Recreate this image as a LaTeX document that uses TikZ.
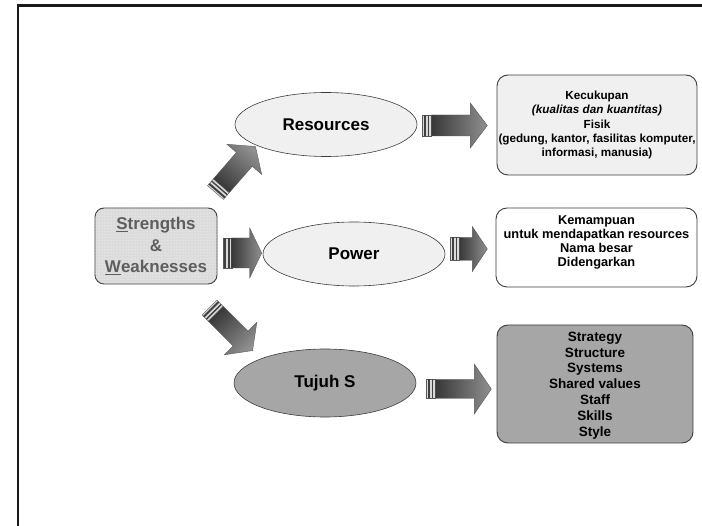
\documentclass[tikz,border=0pt]{standalone}
\usepackage{fontspec}
\setmainfont{Liberation Sans}
\usepackage{xcolor}
\definecolor{edge}{HTML}{3C3C3C}
\definecolor{pale}{HTML}{F0F0F0}
\definecolor{mid}{HTML}{A6A6A6}
\definecolor{shaftd}{HTML}{383838}
\definecolor{shaftl}{HTML}{909090}
\definecolor{swtext}{HTML}{5E5E5E}
\usetikzlibrary{positioning,calc,shapes.geometric,patterns}
\tikzset{
  oval/.style={ellipse,draw=edge,line width=0.6pt,fill=pale,minimum width=182pt,minimum height=64pt,inner sep=0pt,font=\fontsize{17}{20}\selectfont\bfseries},
  doval/.style={oval,fill=mid},
  card/.style={draw=edge,line width=0.9pt,rounded corners=11pt,fill=pale,align=center,inner sep=0pt,font=\fontsize{11.7}{14.3}\selectfont\bfseries},
  wcard/.style={card,fill=white,font=\fontsize{12.8}{13.9}\selectfont\bfseries},
  dcard/.style={card,fill=mid,font=\fontsize{13.5}{15.8}\selectfont\bfseries},
  arrbody/.style={draw=black!65,line width=0.4pt,left color=shaftd,right color=shaftl},
  % #1 length, #2 head length, #3 half shaft, #4 half head
  pics/blockarr/.style n args={4}{code={
    \fill[gray!30,draw=black!65,line width=0.4pt] (0,-#3) rectangle (9,#3);
    \fill[black!75] (1.5,-#3) rectangle (3.5,#3);
    \fill[black!75] (5.5,-#3) rectangle (6.8,#3);
    \shade[arrbody] (9,-#3) -- ({#1-#2},-#3) -- ({#1-#2},-#4) -- (#1,0)
      -- ({#1-#2},#4) -- ({#1-#2},#3) -- (9,#3) -- cycle;
  }},
}
\begin{document}
\begin{tikzpicture}[x=1pt,y=-1pt]
\useasboundingbox (0,0) rectangle (702,526);
\draw[line width=2.5pt,black!90] (17.8,526) -- (17.8,5.3) -- (702,5.3);
% left block
\node[card,minimum width=122pt,minimum height=76pt,rounded corners=9pt,fill=black!14,
  postaction={pattern=dots,pattern color=white},text=swtext,
  font=\fontsize{17}{21.5}\selectfont\bfseries] (sw) at (156,246)
  {\underline{S}trengths\\\&\\\underline{W}eaknesses};
% middle ovals
\node[oval] (res) at (326,124.5) {Resources};
\node[oval] (pow) at (354,254) {Power};
\node[doval,minimum height=68pt] (seven) at (325,383) {Tujuh S};
% right cards
\node[card,minimum width=200pt,minimum height=100pt] (k1) at (597,125)
  {Kecukupan\\{\itshape (kualitas dan kuantitas)}\\Fisik\\(gedung, kantor, fasilitas komputer,\\informasi, manusia)};
\node[wcard,minimum width=201pt,minimum height=79pt,text depth=13pt] (k2) at (596.5,247.5)
  {Kemampuan\\untuk mendapatkan resources\\Nama besar\\Didengarkan};
\node[dcard,minimum width=196pt,minimum height=118pt,text depth=0pt] (k3) at (595,384)
  {Strategy\\Structure\\Systems\\Shared values\\Staff\\Skills\\Style};
% block arrows
\pic at ($(res.east)+(5,1)$) {blockarr={65}{17}{10.5}{22.5}};
\pic at ($(pow.east)+(5,-5)$) {blockarr={37}{15}{11.5}{22.5}};
\pic at ($(seven.east)+(10,6)$) {blockarr={65}{17}{9.5}{25}};
\pic at ($(pow.west)+(-40,-1)$) {blockarr={39}{12}{15}{25}};
\pic[rotate=49,arrbody/.append style={shading angle=139}] at ($(sw.north east)+(-2,-15)$) {blockarr={61}{17}{10.5}{23}};
\pic[rotate=-45,arrbody/.append style={shading angle=45}] at ($(sw.south east)+(-8,23)$) {blockarr={61}{17}{10.5}{23}};
\end{tikzpicture}
\end{document}
